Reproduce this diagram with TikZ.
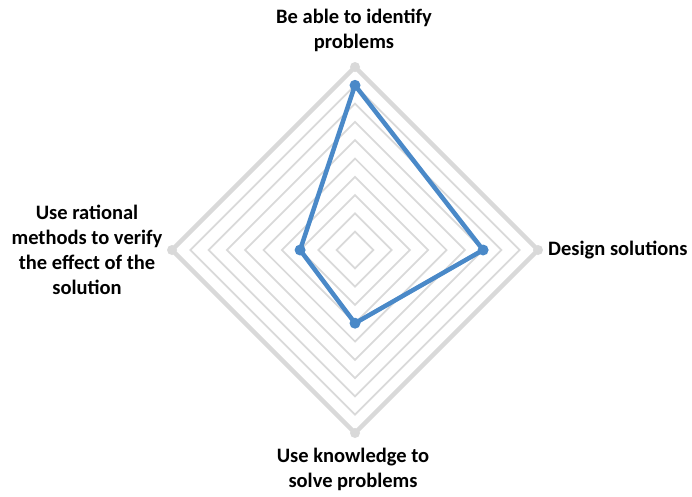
\documentclass[tikz,border=0pt]{standalone}
\usepackage{fontspec}
\setmainfont{Carlito}
\definecolor{gridc}{HTML}{D9D9D9}
\definecolor{datac}{HTML}{4A89C8}
\begin{document}
\begin{tikzpicture}[x=1pt,y=-1pt,
  lbl/.style={font=\fontsize{20.5}{25}\selectfont\bfseries, align=center, text=black, inner sep=0pt},
  ring/.style={draw=gridc, line width=1.75pt, line join=miter},
  outerring/.style={draw=gridc, line width=4.5pt, line join=round},
  datadot/.style={circle, fill=datac, inner sep=0pt, minimum size=11pt},
  griddot/.style={circle, fill=gridc, inner sep=0pt, minimum size=10pt},
  series/.style={draw=datac, line width=4.5pt, line join=round}]
\useasboundingbox (0,0) rectangle (692,496);
\def\cx{355}\def\cy{250}\def\u{18.3}
% inner rings
\foreach \k in {1,...,9}{
  \draw[ring] ({\cx},{\cy-\k*\u}) -- ({\cx+\k*\u},{\cy}) -- ({\cx},{\cy+\k*\u}) -- ({\cx-\k*\u},{\cy}) -- cycle;
}
% outer ring
\node[griddot] (ot) at ({\cx},{\cy-10*\u}) {};
\node[griddot] (or) at ({\cx+10*\u},{\cy}) {};
\node[griddot] (ob) at ({\cx},{\cy+10*\u}) {};
\node[griddot] (ol) at ({\cx-10*\u},{\cy}) {};
\draw[outerring] (ot.center) -- (or.center) -- (ob.center) -- (ol.center) -- cycle;
% data series
\node[datadot] (dt) at ({\cx},{\cy-9*\u}) {};
\node[datadot] (dr) at ({\cx+7*\u},{\cy}) {};
\node[datadot] (db) at ({\cx},{\cy+4*\u}) {};
\node[datadot] (dl) at ({\cx-3*\u},{\cy}) {};
\draw[series] (dt.center) -- (dr.center) -- (db.center) -- (dl.center) -- cycle;
% labels
\node[lbl] (lt) at (354,30) {Be able to identify\\problems};
\node[lbl, anchor=west] (lr) at (548,250) {Design solutions};
\node[lbl] (lb) at (353,469) {Use knowledge to\\solve problems};
\node[lbl] (ll) at (87,250) {Use rational\\methods to verify\\the effect of the\\solution};
\end{tikzpicture}
\end{document}
